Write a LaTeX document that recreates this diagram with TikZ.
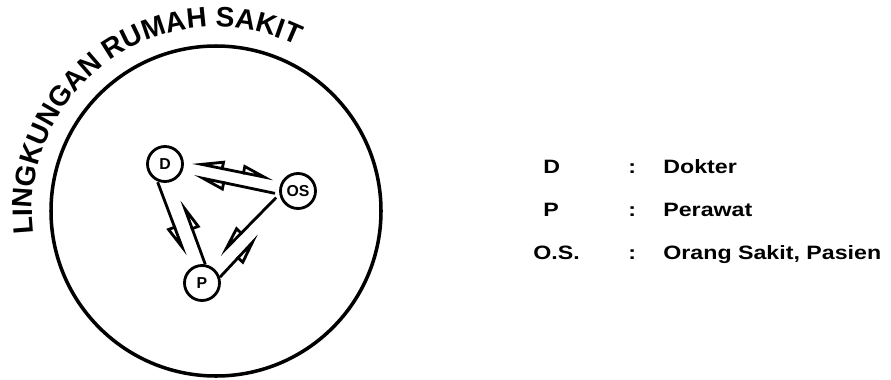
\documentclass[tikz,border=0pt]{standalone}
\usepackage{fontspec}
\setmainfont{Liberation Sans}
\newfontfamily\legendfont[FakeStretch=1.2]{Liberation Sans}
\usetikzlibrary{arrows.meta,decorations.text}
\tikzset{fl/.tip={Triangle[open,left,length=.55cm,width=.32cm]},fr/.tip={Triangle[open,right,length=.55cm,width=.32cm]}}

\begin{document}
\begin{tikzpicture}[x=1cm,y=1cm,
  actor/.style={draw,circle,line width=1.6pt,minimum size=.7cm,inner sep=0pt,font=\bfseries\fontsize{9}{9}\selectfont},
  link/.style={line width=1.6pt},
  lg/.style={anchor=base west,inner sep=0pt,font=\legendfont\bfseries\fontsize{11}{13}\selectfont}]
\useasboundingbox (0,0) rectangle (17.82,7.58);
\node[draw,circle,line width=2pt,minimum size=6.6cm,inner sep=0pt] (env) at (4.32,3.36){};
\path[decorate,decoration={text along path,text align=fit to path,text={|\bfseries\fontsize{16}{16}\selectfont|LINGKUNGAN RUMAH SAKIT}}] ([shift={(187:3.68)}]env.center) arc[start angle=187,end angle=66,radius=3.68];
\node[actor] (D) at (3.30,4.30){D};
\node[actor] (OS) at (5.96,3.76){OS};
\node[actor] (P) at (4.04,1.92){P};
\draw[link,fr-fl,shorten <=.17cm,shorten >=.17cm] (D.10)--(OS.147);
\draw[link,-fl,shorten <=.09cm,shorten >=.25cm] (OS.190)--(D.-31);
\draw[link,-fr,shorten <=.09cm,shorten >=.29cm] (OS.190)--(P.67);
\draw[link,-fr,shorten >=.8cm] (P.18)--(OS.232);
\draw[link,-fr,shorten <=.02cm,shorten >=.26cm] (D.246)--(P.129);
\draw[link,-fr,shorten >=.41cm] (P.80)--(D.-60);
\node[lg] (kd) at (10.86,4.11){D};
\node[lg] (cd) at (12.56,4.11){:};
\node[lg] (td) at (13.26,4.11){Dokter};
\node[lg] (kp) at (10.86,3.25){P};
\node[lg] (cp) at (12.56,3.25){:};
\node[lg] (tp) at (13.26,3.25){Perawat};
\node[lg] (ko) at (10.66,2.39){O.S.};
\node[lg] (co) at (12.56,2.39){:};
\node[lg] (to) at (13.26,2.39){Orang Sakit, Pasien};
\end{tikzpicture}
\end{document}
